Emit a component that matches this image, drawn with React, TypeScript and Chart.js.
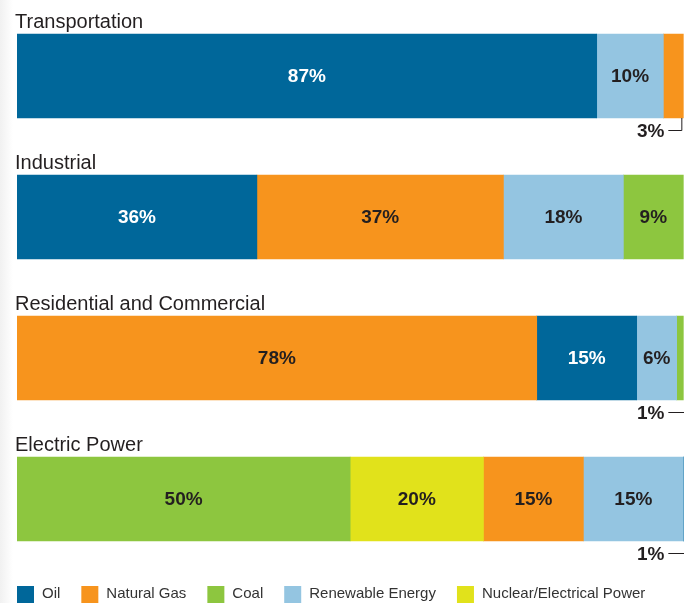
import React, { useEffect, useRef } from 'react';
import { Chart, registerables } from 'chart.js';

Chart.register(...registerables);

// ---- data ----
const sectors = ['Transportation', 'Industrial', 'Residential and Commercial', 'Electric Power'];
const sources = ['Oil', 'Natural Gas', 'Coal', 'Renewable Energy', 'Nuclear/Electrical Power'];
const oil = [87, 36, 15, 1];
const naturalGas = [3, 37, 78, 15];
const coal = [0, 9, 1, 50];
const renewable = [10, 18, 6, 15];
const nuclear = [0, 0, 0, 20];
const sourceColors = ['#00679a', '#f7941d', '#8dc63f', '#94c5e1', '#e1e21b'];
// order of segments along each bar (indices into sources)
const segmentOrder = [
  [0, 3, 1],
  [0, 1, 3, 2],
  [1, 0, 3, 2],
  [2, 4, 1, 3, 0],
];
const xMax = 101;

const sourceValues = [oil, naturalGas, coal, renewable, nuclear];
const TEXT = '#231f20';
const FONT = '"Liberation Sans", Arial, sans-serif';

export default function App() {
  const ref = useRef<HTMLCanvasElement | null>(null);

  useEffect(() => {
    const canvas = ref.current;
    if (!canvas) return;
    const maxSeg = Math.max(...segmentOrder.map((o) => o.length));
    const datasets = [] as any[];
    for (let k = 0; k < maxSeg; k++) {
      datasets.push({
        label: 'segment ' + (k + 1),
        data: sectors.map((_, i) => {
          const s = segmentOrder[i][k];
          return s === undefined ? null : sourceValues[s][i];
        }),
        backgroundColor: sectors.map((_, i) => {
          const s = segmentOrder[i][k];
          return s === undefined ? 'rgba(0,0,0,0)' : sourceColors[s];
        }),
        sourceIndex: sectors.map((_, i) => segmentOrder[i][k]),
        borderWidth: 0,
        barThickness: 84,
      });
    }

    const overlay = {
      id: 'overlay',
      afterDatasetsDraw(chart: any) {
        const ctx = chart.ctx;
        const xScale = chart.scales.x;
        const full = xScale.getPixelForValue(100);
        ctx.save();
        // sector titles
        const meta0 = chart.getDatasetMeta(0);
        meta0.data.forEach((el: any, i: number) => {
          const top = el.y - el.height / 2;
          ctx.font = '20px ' + FONT;
          ctx.fillStyle = TEXT;
          ctx.textAlign = 'left';
          ctx.textBaseline = 'alphabetic';
          ctx.fillText(sectors[i], 15, top - 6);
        });
        // value labels
        chart.data.datasets.forEach((ds: any, di: number) => {
          const meta = chart.getDatasetMeta(di);
          meta.data.forEach((el: any, i: number) => {
            const v = ds.data[i];
            if (v === null || v === undefined || v <= 0) return;
            const s = ds.sourceIndex[i];
            const label = v + '%';
            ctx.font = 'bold 19px ' + FONT;
            ctx.textBaseline = 'middle';
            if (v >= 5) {
              ctx.fillStyle = s === 0 ? '#ffffff' : TEXT;
              ctx.textAlign = 'center';
              ctx.fillText(label, (el.x + el.base) / 2, el.y + 1);
            } else {
              const bottom = el.y + el.height / 2;
              const ty = bottom + 13;
              const tr = full - 19;
              ctx.fillStyle = TEXT;
              ctx.textAlign = 'right';
              ctx.fillText(label, tr, ty + 1);
              const ly = Math.round(ty) - 0.5;
              ctx.strokeStyle = TEXT;
              ctx.lineWidth = 1;
              ctx.beginPath();
              ctx.moveTo(tr + 4, ly);
              if (v >= 2) {
                const lx = el.x - 1.5;
                ctx.lineTo(lx, ly);
                ctx.lineTo(lx, bottom);
              } else {
                ctx.lineTo(chart.width, ly);
              }
              ctx.stroke();
            }
          });
        });
        // legend
        let x = 17;
        const boxTop = 586;
        ctx.font = '15px ' + FONT;
        ctx.textAlign = 'left';
        ctx.textBaseline = 'middle';
        sources.forEach((name, si) => {
          ctx.fillStyle = sourceColors[si];
          ctx.fillRect(x, boxTop, 17, 17);
          x += 17 + 8;
          ctx.fillStyle = '#333333';
          ctx.fillText(name, x, boxTop + 8);
          x += ctx.measureText(name).width + 21;
        });
        ctx.restore();
      },
    };

    const chart = new Chart(canvas, {
      type: 'bar',
      data: { labels: sectors, datasets },
      options: {
        indexAxis: 'y',
        responsive: false,
        animation: false,
        layout: { padding: { left: 17, right: 0, top: 5.5, bottom: 33.5 } },
        scales: {
          x: { stacked: true, min: 0, max: xMax, display: false },
          y: { stacked: true, display: false },
        },
        plugins: {
          legend: { display: false },
          tooltip: { enabled: false },
        },
      },
      plugins: [overlay],
    } as any);
    return () => chart.destroy();
  }, []);

  return (
    <div
      style={{
        position: 'absolute',
        left: 0,
        top: 0,
        width: 684,
        height: 603,
        overflow: 'hidden',
        background: 'linear-gradient(to right, #f1f1f1 0px, #ffffff 13px)',
      }}
    >
      <canvas ref={ref} width={690} height={603} style={{ width: 690, height: 603, display: 'block' }} />
    </div>
  );
}
